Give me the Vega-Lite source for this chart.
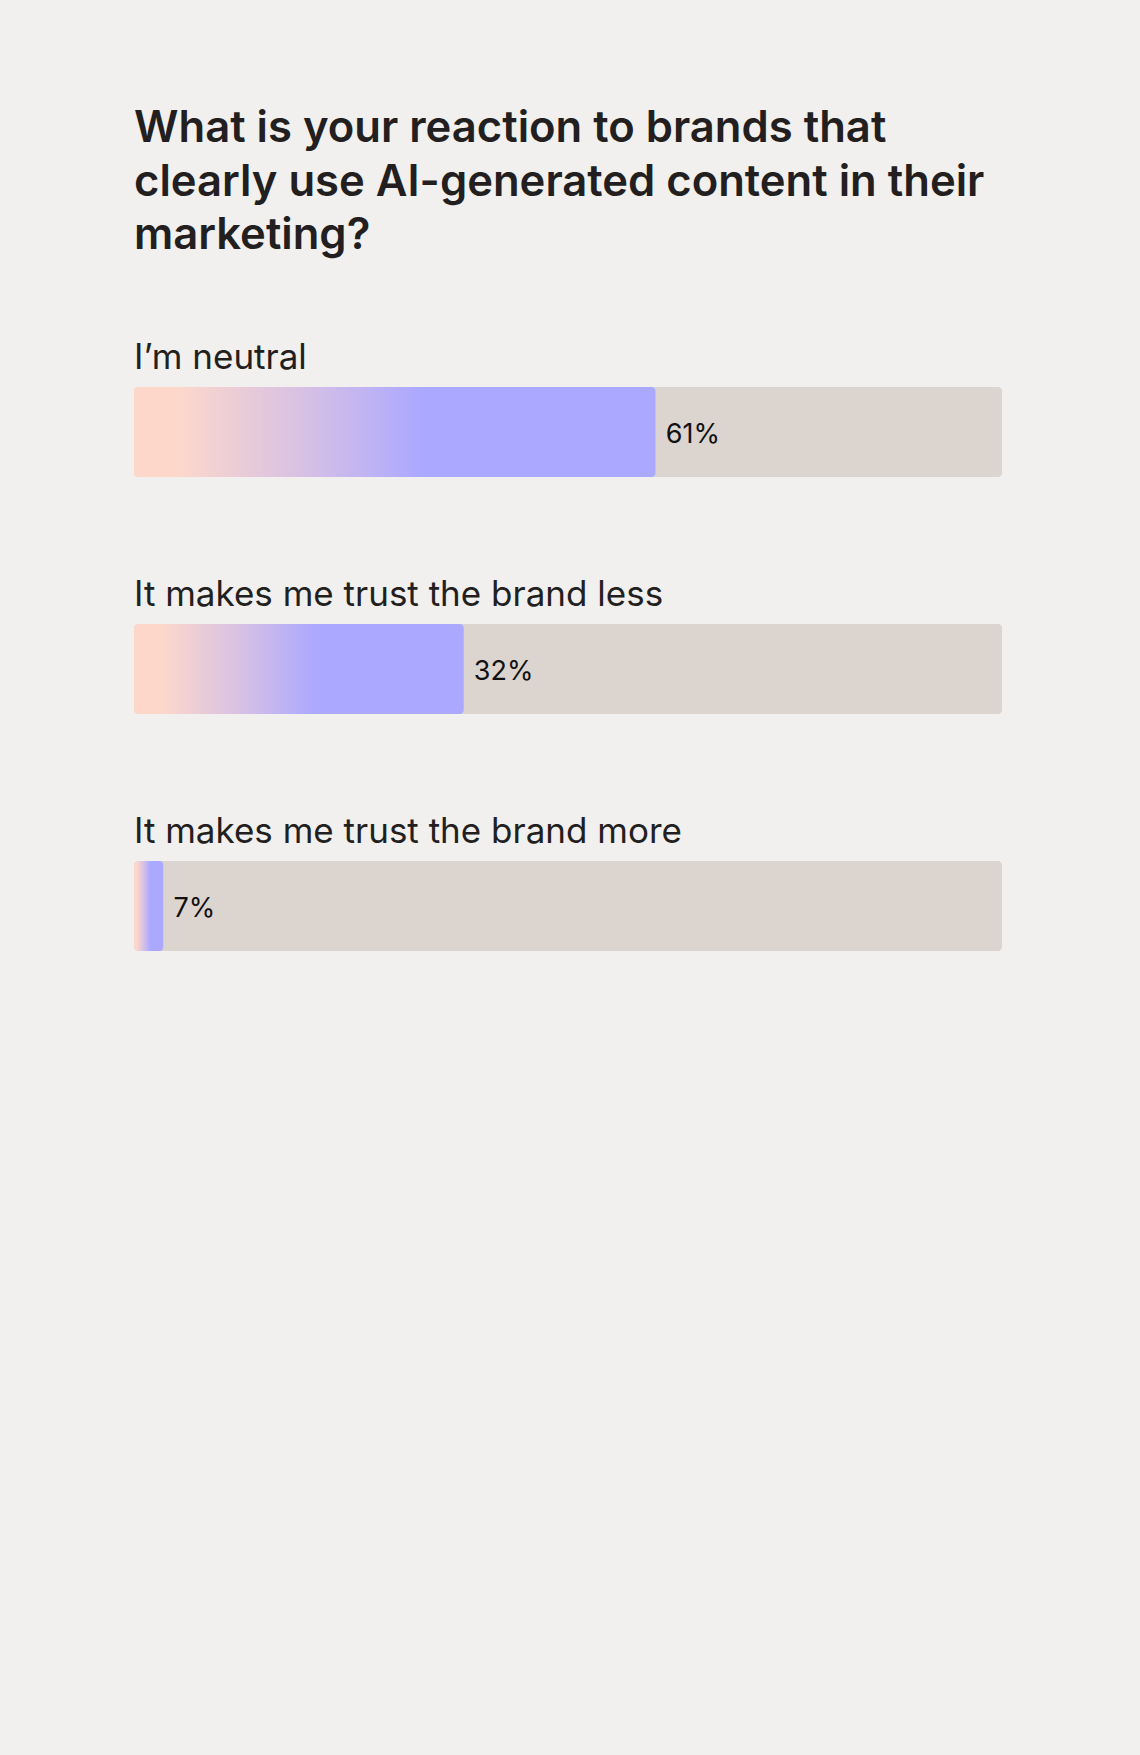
{
  "$schema": "https://vega.github.io/schema/vega-lite/v6.json",
  "autosize": "none",
  "width": 868,
  "height": 564,
  "padding": {"left": 134, "top": 387, "right": 138, "bottom": 804},
  "background": "#F1F0EE",
  "title": {
    "text": ["What is your reaction to brands that", "clearly use AI-generated content in their", "marketing?"],
    "font": "Inter",
    "fontSize": 43.6,
    "fontWeight": 600,
    "color": "#231F20",
    "anchor": "start",
    "frame": "group",
    "lineHeight": 53.5,
    "offset": 82
  },
  "data": {
    "values": [
      {"answer": "I’m neutral", "share": "61%", "fill": 60.1},
      {"answer": "It makes me trust the brand less", "share": "32%", "fill": 38.0},
      {"answer": "It makes me trust the brand more", "share": "7%", "fill": 3.4}
    ]
  },
  "encoding": {
    "y": {
      "field": "answer",
      "type": "nominal",
      "sort": null,
      "axis": null,
      "scale": {"paddingInner": 0.6203, "paddingOuter": 0}
    }
  },
  "layer": [
    {
      "mark": {"type": "bar", "color": "#DCD4CE", "cornerRadius": 4},
      "encoding": {
        "x": {"datum": 0, "type": "quantitative", "axis": null, "scale": {"domain": [0, 100], "nice": false}},
        "x2": {"datum": 100}
      }
    },
    {
      "mark": {
        "type": "bar",
        "cornerRadius": 4,
        "color": {
          "gradient": "linear",
          "x1": 0, "y1": 0, "x2": 1, "y2": 0,
          "stops": [
            {"offset": 0, "color": "#FDD8CA"},
            {"offset": 0.08, "color": "#FDD8CA"},
            {"offset": 0.32, "color": "#D8C1E4"},
            {"offset": 0.55, "color": "#ABA8FF"},
            {"offset": 1, "color": "#ABA8FF"}
          ]
        }
      },
      "encoding": {
        "x": {"field": "fill", "type": "quantitative", "axis": null, "scale": {"domain": [0, 100], "nice": false}}
      }
    },
    {
      "mark": {"type": "text", "font": "Inter", "fontSize": 27, "color": "#111111", "align": "left", "baseline": "alphabetic", "dx": 10, "dy": 11},
      "encoding": {
        "x": {"field": "fill", "type": "quantitative"},
        "text": {"field": "share"}
      }
    },
    {
      "mark": {"type": "text", "font": "Inter", "fontSize": 35, "color": "#231F20", "align": "left", "baseline": "alphabetic", "dy": -63},
      "encoding": {
        "x": {"datum": 0, "type": "quantitative"},
        "text": {"field": "answer"}
      }
    }
  ],
  "config": {"view": {"stroke": null}}
}
